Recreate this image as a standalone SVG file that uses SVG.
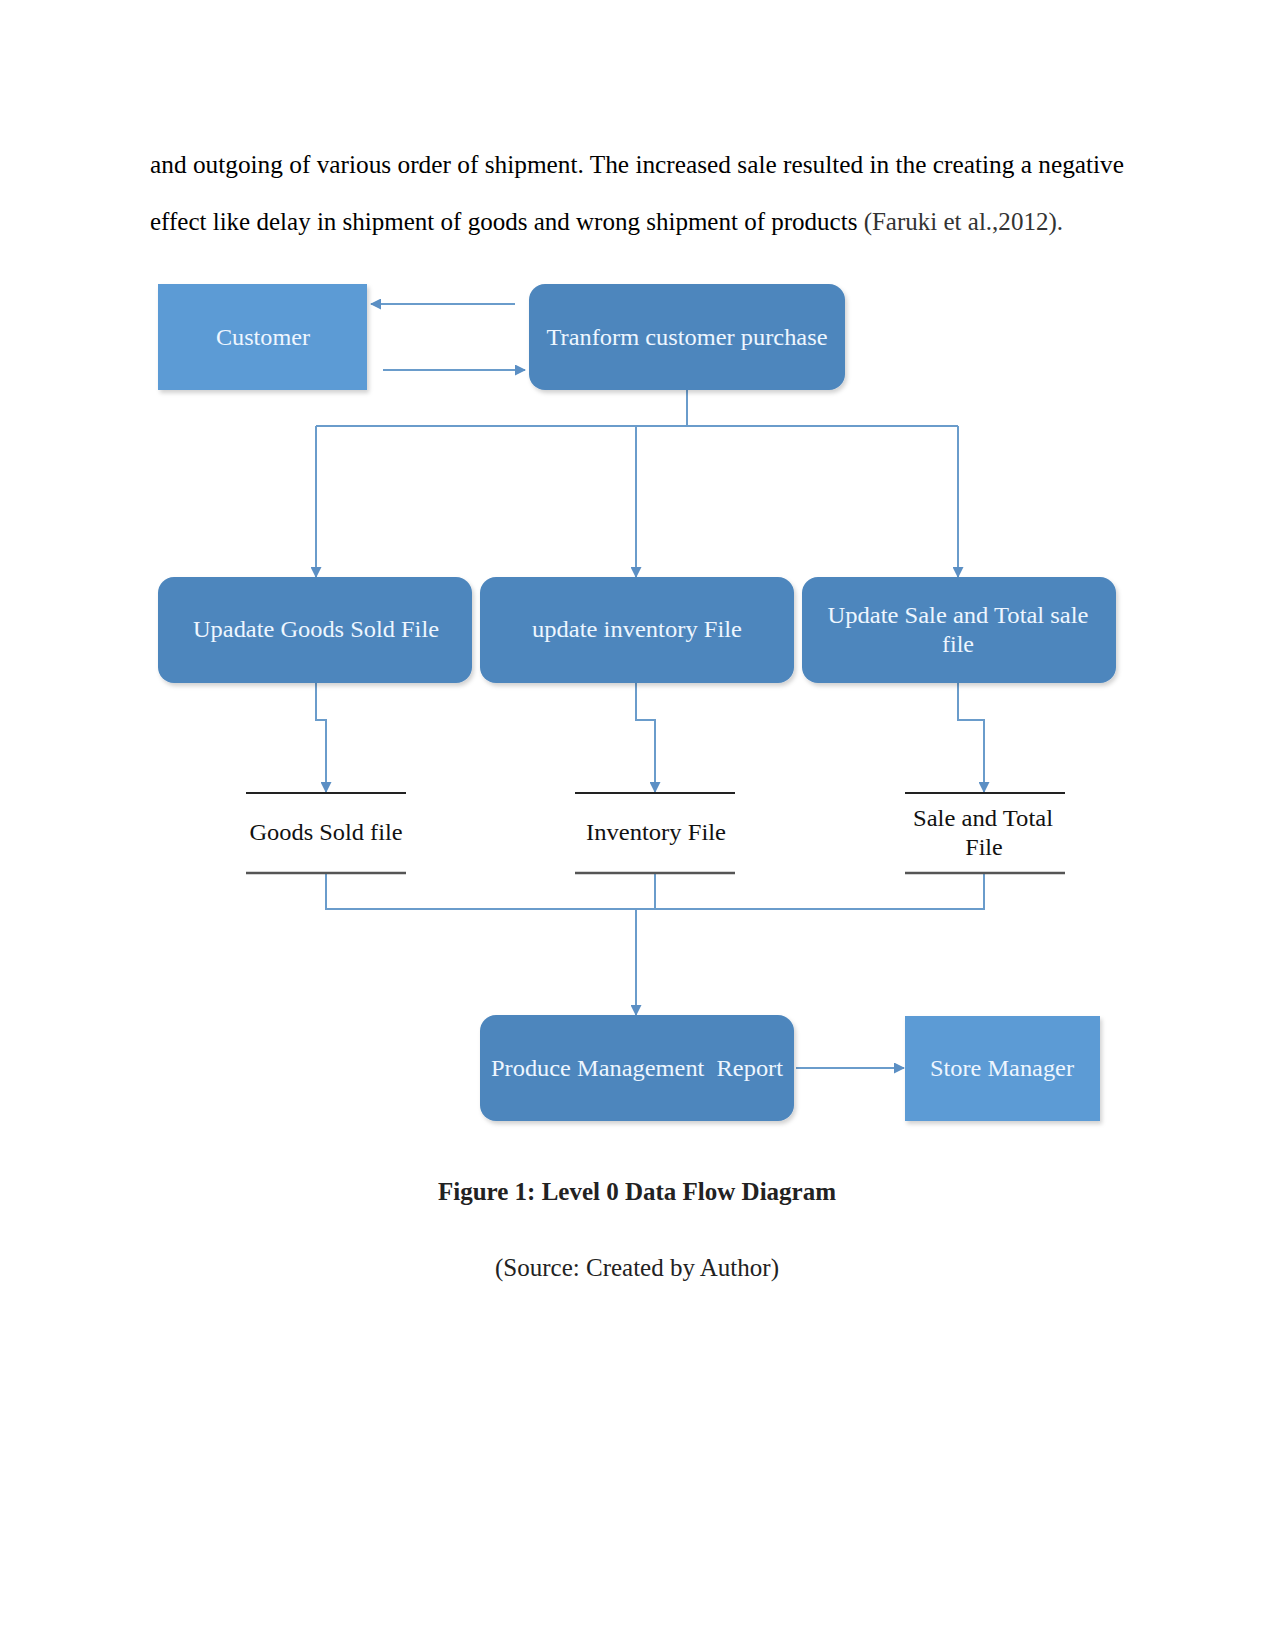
<svg xmlns="http://www.w3.org/2000/svg" width="1275" height="1650" viewBox="0 0 1275 1650">
<defs>
<marker id="ah" markerWidth="11" markerHeight="11" refX="10" refY="5.5" orient="auto" markerUnits="userSpaceOnUse">
<path d="M0,0 L11,5.5 L0,11 z" fill="#5b8fc4"/>
</marker>
<filter id="sh" x="-5%" y="-5%" width="112%" height="120%">
<feDropShadow dx="2" dy="3" stdDeviation="2" flood-color="#000" flood-opacity="0.18"/>
</filter>
</defs>
<style>
.body{font-family:"Liberation Serif",serif;font-size:25px;fill:#000}
.proc{fill:#4d86bd;filter:url(#sh)}
.ent{fill:#5b9bd5;filter:url(#sh)}
.lbl{font-family:"Liberation Serif",serif;font-size:24px;fill:#eef6ff;text-anchor:middle}
.slbl{font-family:"Liberation Serif",serif;font-size:24px;fill:#111;text-anchor:middle}
.store{stroke:#222;stroke-width:2}
.store2{stroke:#555;stroke-width:2.5}
.conn{fill:none;stroke:#6a9ccb;stroke-width:2}
</style>
<rect width="1275" height="1650" fill="#fff"/>
<text class="body" x="150" y="173" textLength="974" lengthAdjust="spacingAndGlyphs">and outgoing of various order of shipment. The increased sale resulted in the creating a negative</text>
<text class="body" x="150" y="230" textLength="913" lengthAdjust="spacingAndGlyphs">effect like delay in shipment of goods and wrong shipment of products <tspan fill="#333">(Faruki et al.,2012).</tspan></text>

<g id="connectors">
<line class="conn" x1="515" y1="304" x2="371" y2="304" marker-end="url(#ah)"/>
<line class="conn" x1="383" y1="370" x2="525" y2="370" marker-end="url(#ah)"/>
<path class="conn" d="M687,390 V426"/>
<path class="conn" d="M316,426 H958"/>
<line class="conn" x1="316" y1="426" x2="316" y2="577" marker-end="url(#ah)"/>
<line class="conn" x1="636" y1="426" x2="636" y2="577" marker-end="url(#ah)"/>
<line class="conn" x1="958" y1="426" x2="958" y2="577" marker-end="url(#ah)"/>
<path class="conn" d="M316,683 V720 H326 V792" marker-end="url(#ah)"/>
<path class="conn" d="M636,683 V720 H655 V792" marker-end="url(#ah)"/>
<path class="conn" d="M958,683 V720 H984 V792" marker-end="url(#ah)"/>
<path class="conn" d="M326,874 V909 H984 V874"/>
<path class="conn" d="M655,874 V909"/>
<line class="conn" x1="636" y1="909" x2="636" y2="1015" marker-end="url(#ah)"/>
<line class="conn" x1="796" y1="1068" x2="904" y2="1068" marker-end="url(#ah)"/>
</g>

<g id="customer">
<rect class="ent" x="158" y="284" width="209" height="106"/>
<text class="lbl" x="263" y="345" textLength="94" lengthAdjust="spacingAndGlyphs">Customer</text>
</g>
<g id="transform">
<rect class="proc" x="529" y="284" width="316" height="106" rx="16"/>
<text class="lbl" x="687" y="345" textLength="281" lengthAdjust="spacingAndGlyphs">Tranform customer purchase</text>
</g>
<g id="update-goods">
<rect class="proc" x="158" y="577" width="314" height="106" rx="16"/>
<text class="lbl" x="316" y="637" textLength="246" lengthAdjust="spacingAndGlyphs">Upadate Goods Sold File</text>
</g>
<g id="update-inventory">
<rect class="proc" x="480" y="577" width="314" height="106" rx="16"/>
<text class="lbl" x="637" y="637" textLength="210" lengthAdjust="spacingAndGlyphs">update inventory File</text>
</g>
<g id="update-sale">
<rect class="proc" x="802" y="577" width="314" height="106" rx="16"/>
<text class="lbl" x="958" y="623" textLength="261" lengthAdjust="spacingAndGlyphs">Update Sale and Total sale</text>
<text class="lbl" x="958" y="652">file</text>
</g>
<g id="goods-sold-file">
<line class="store" x1="246" y1="793" x2="406" y2="793"/>
<line class="store2" x1="246" y1="873" x2="406" y2="873"/>
<text class="slbl" x="326" y="840" textLength="153" lengthAdjust="spacingAndGlyphs">Goods Sold file</text>
</g>
<g id="inventory-file">
<line class="store" x1="575" y1="793" x2="735" y2="793"/>
<line class="store2" x1="575" y1="873" x2="735" y2="873"/>
<text class="slbl" x="656" y="840" textLength="140" lengthAdjust="spacingAndGlyphs">Inventory File</text>
</g>
<g id="sale-total-file">
<line class="store" x1="905" y1="793" x2="1065" y2="793"/>
<line class="store2" x1="905" y1="873" x2="1065" y2="873"/>
<text class="slbl" x="983" y="826" textLength="140" lengthAdjust="spacingAndGlyphs">Sale and Total</text>
<text class="slbl" x="984" y="855">File</text>
</g>
<g id="produce-report">
<rect class="proc" x="480" y="1015" width="314" height="106" rx="16"/>
<text class="lbl" x="637" y="1076" textLength="292" lengthAdjust="spacingAndGlyphs" xml:space="preserve">Produce Management  Report</text>
</g>
<g id="store-manager">
<rect class="ent" x="905" y="1016" width="195" height="105"/>
<text class="lbl" x="1002" y="1076" textLength="144" lengthAdjust="spacingAndGlyphs">Store Manager</text>
</g>

<text x="637" y="1200" text-anchor="middle" style="font-family:'Liberation Serif',serif;font-size:25px;font-weight:bold;fill:#222">Figure 1: Level 0 Data Flow Diagram</text>
<text x="637" y="1276" text-anchor="middle" style="font-family:'Liberation Serif',serif;font-size:25px;fill:#222">(Source: Created by Author)</text>
</svg>
